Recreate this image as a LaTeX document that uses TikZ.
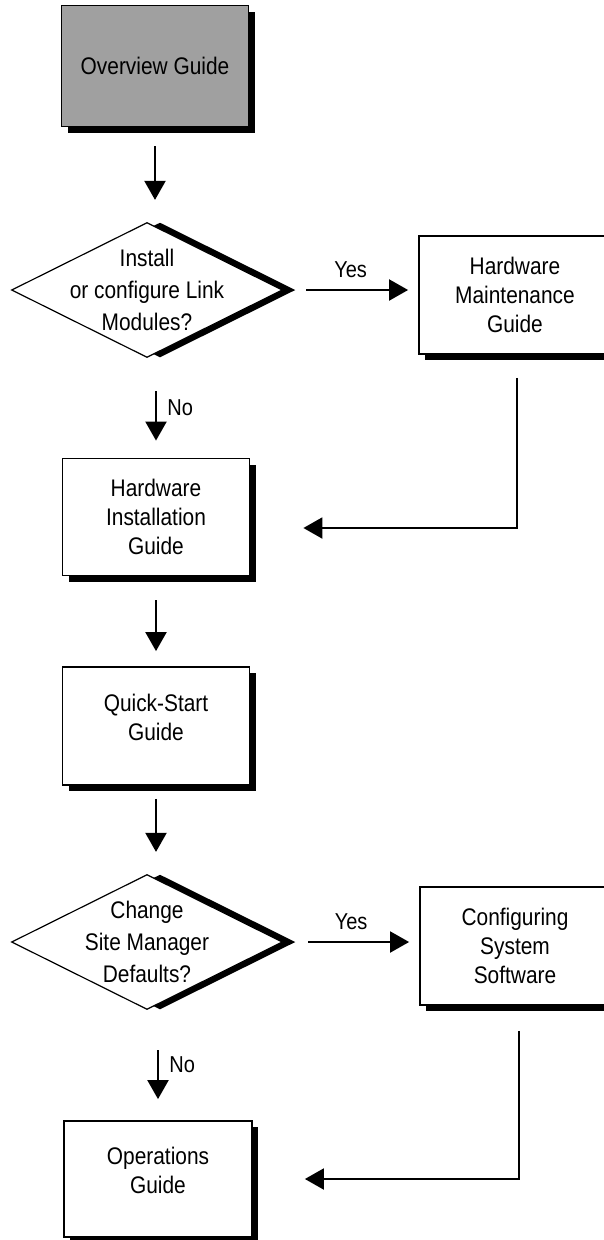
\documentclass[tikz,border=0pt]{standalone}
\usepackage{fontspec}
\setmainfont{Liberation Sans}[FakeStretch=0.87]
\usetikzlibrary{shapes.geometric, arrows.meta, positioning, calc, shadows}
\definecolor{guidegray}{HTML}{A0A0A0}

\begin{document}
\begin{tikzpicture}[x=1pt, y=-1pt,
  guidebox/.style={draw, line width=1.8pt, fill=white, minimum width=187pt, minimum height=117pt, align=center, font=\fontsize{24}{29}\selectfont, drop shadow={shadow xshift=6pt, shadow yshift=-6pt, fill=black, opacity=1}},
  shortbox/.style={text depth=18pt},
  decision/.style={diamond, draw, line width=1.2pt, fill=white, minimum width=271pt, minimum height=135pt, inner sep=0pt, drop shadow={shadow xshift=13pt, shadow yshift=0pt, fill=black, opacity=1}},
  qtext/.style={align=center, font=\fontsize{24}{32}\selectfont},
  flow/.style={-{Triangle[length=19pt, width=21pt]}, line width=2pt},
  answer/.style={font=\fontsize{23}{26}\selectfont}]
  \clip (0,0) rectangle (604,1240);
  \node[guidebox, fill=guidegray, minimum height=121pt] (overview) at (155,66) {Overview Guide};
  \node[decision, label={[qtext]center:{Install\\or configure Link\\Modules?}}] (linkq) at (147,290) {};
  \node[guidebox, minimum width=192pt, minimum height=118pt] (maint) at (515,295) {Hardware\\Maintenance\\Guide};
  \node[guidebox] (install) at (156,517) {Hardware\\Installation\\Guide};
  \node[guidebox, shortbox, minimum height=118pt] (quick) at (156,726) {Quick-Start\\Guide};
  \node[decision, label={[qtext]center:{Change\\Site Manager\\Defaults?}}] (siteq) at (147,942) {};
  \node[guidebox, minimum width=190pt, minimum height=118pt] (config) at (515,946) {Configuring\\System\\Software};
  \node[guidebox, shortbox, minimum width=188pt, minimum height=116pt] (ops) at (158,1179) {Operations\\Guide};

  \draw[flow, shorten <=19pt, shorten >=22pt] (overview.south) -- (overview.south |- linkq.north);
  \draw[flow, shorten <=23pt, shorten >=10pt] (linkq.east) -- (linkq.east -| maint.west) node[midway, above=8pt, answer] {Yes};
  \draw[flow, shorten <=33pt, shorten >=17pt] (install.north |- linkq.south) -- (install.north) node[midway, right=7pt, answer] {No};
  \draw[flow, shorten <=23pt, shorten >=53pt] ([xshift=2pt]maint.south) |- ([yshift=-11pt]install.east);
  \draw[flow, shorten <=24pt, shorten >=15pt] (install) -- (quick);
  \draw[flow, shorten <=13pt, shorten >=22pt] (quick.south) -- (quick.south |- siteq.north);
  \draw[flow, shorten <=25pt, shorten >=10pt] (siteq.east) -- (siteq.east -| config.west) node[midway, above=8pt, answer] {Yes};
  \draw[flow, shorten <=40pt, shorten >=21pt] (ops.north |- siteq.south) -- (ops.north) node[midway, right=7pt, answer] {No};
  \draw[flow, shorten <=25pt, shorten >=52pt] ([xshift=4pt]config.south) |- (ops.east);
\end{tikzpicture}
\end{document}
